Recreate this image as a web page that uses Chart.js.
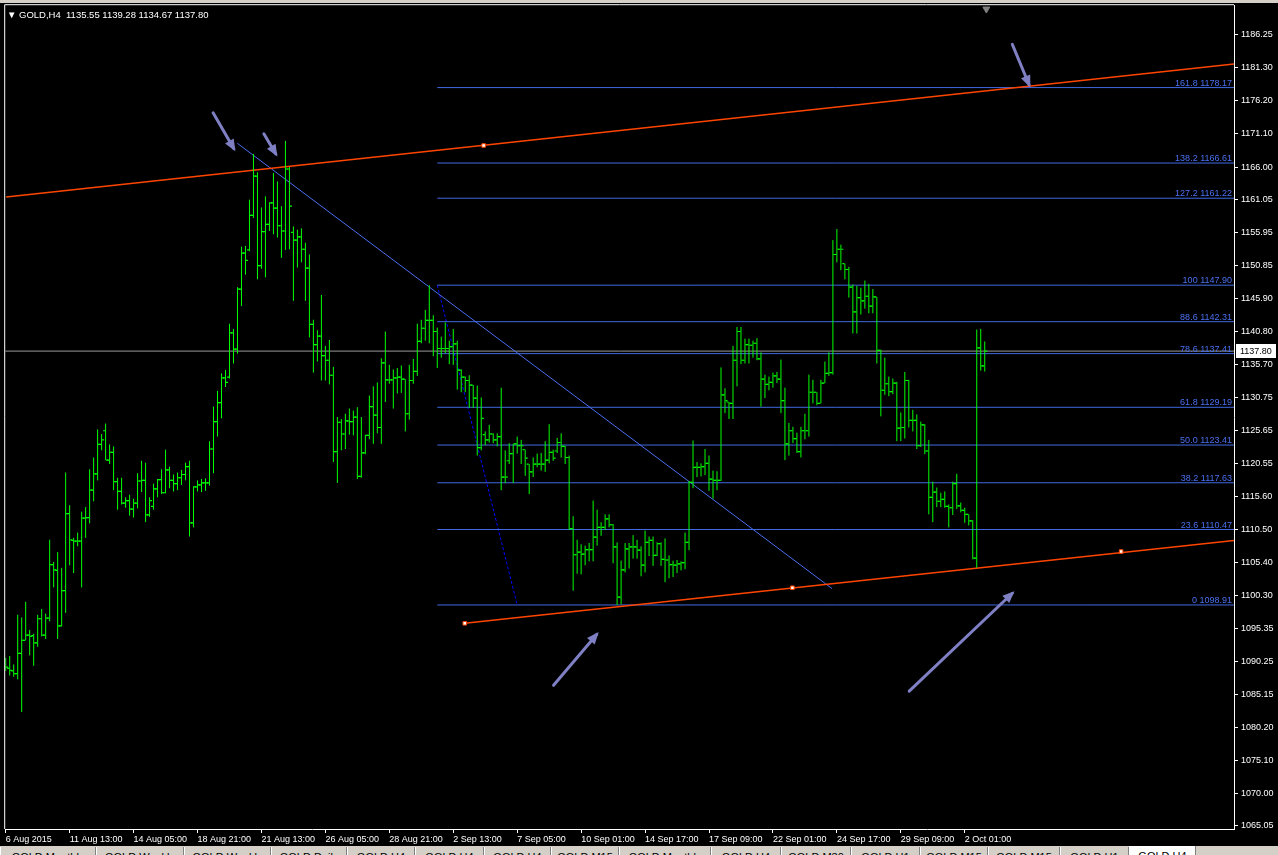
<!DOCTYPE html>
<html>
<head>
<meta charset="utf-8">
<title>GOLD,H4</title>
<script src="https://cdn.jsdelivr.net/npm/chart.js@4.4.1/dist/chart.umd.min.js"></script>
<style>
html, body { margin: 0; padding: 0; background: #000; }
body { width: 1278px; height: 855px; position: relative; overflow: hidden; font-family: "Liberation Sans", Arial, sans-serif; }
#wrap { position: absolute; left: 0; top: 0; width: 1278px; height: 846px; }
#caption { position: absolute; left: 7px; top: 9px; color: #fff; font-size: 9.5px; white-space: pre; }
#tabs { position: absolute; left: 0; top: 846px; width: 1278px; height: 9px; background: #d4d0c8; overflow: hidden; }
.tab { position: absolute; top: 1px; height: 14px; border-left: 1px solid #fff; border-right: 1px solid #808080; font-size: 11px; color: #000; text-align: center; line-height: 20px; }
.tab.active { background: #fff; top: 0; }
</style>
</head>
<body>
<div id="wrap"><canvas id="myChart" width="1278" height="846"></canvas></div>
<div id="caption">&#9660; GOLD,H4  1135.55 1139.28 1134.67 1137.80</div>
<div id="tabs"></div>
<script>
// H4 bars, index 0 = 6 Aug 2015
const barOpen = [
  1089.4,1089.2,1088.8,1088.4,1091.5,1093.5,1094.3,1094.2,1093.1,1096.8,
  1094.3,1096.9,1105.1,1104.2,1095.7,1101.1,1112.9,1108.8,1108.7,1108.7,
  1112.2,1112.3,1116.5,1119.0,1123.5,1125.6,1121.1,1122.3,1117.8,1116.3,
  1114.5,1114.9,1113.6,1114.5,1117.9,1118.0,1112.7,1114.0,1116.7,1118.1,
  1116.1,1119.6,1118.0,1117.5,1118.4,1118.9,1120.1,1111.5,1117.0,1117.3,
  1117.6,1117.6,1122.8,1127.0,1129.9,1133.7,1133.8,1140.6,1138.1,1147.3,
  1152.8,1153.3,1158.6,1164.6,1150.9,1156.1,1157.2,1160.5,1159.7,1157.0,
  1156.2,1165.7,1156.0,1154.8,1155.3,1153.4,1150.5,1141.9,1138.8,1140.1,
  1137.1,1136.4,1134.1,1122.4,1126.9,1125.1,1127.1,1127.0,1127.7,1118.6,
  1122.2,1124.9,1129.3,1128.0,1126.1,1136.0,1133.4,1133.4,1133.7,1133.8,
  1133.5,1128.2,1133.3,1134.7,1139.3,1141.3,1142.5,1142.5,1140.8,1138.2,
  1138.2,1138.2,1138.5,1138.9,1134.9,1133.8,1133.3,1132.6,1130.6,1123.0,
  1125.0,1124.2,1125.1,1124.2,1124.7,1118.5,1121.0,1122.1,1123.6,1123.3,
  1122.7,1120.5,1119.3,1120.5,1120.5,1120.5,1121.1,1122.3,1122.5,1123.8,
  1123.2,1121.5,1110.6,1106.6,1107.0,1106.7,1107.4,1107.4,1109.3,1110.8,
  1110.8,1112.1,1111.2,1107.8,1100.1,1104.3,1107.5,1107.8,1107.8,1107.3,
  1105.0,1108.5,1108.8,1106.5,1108.3,1105.9,1105.8,1105.1,1105.0,1105.2,
  1105.4,1108.5,1117.7,1120.0,1120.0,1120.1,1120.6,1118.2,1118.0,1118.0,
  1131.1,1130.0,1129.8,1136.4,1140.8,1136.4,1138.8,1138.7,1139.0,1136.6,
  1133.5,1132.7,1133.0,1134.0,1133.5,1130.2,1123.6,1125.6,1124.4,1122.4,
  1125.6,1125.6,1131.5,1131.5,1129.8,1132.9,1134.4,1134.5,1152.6,1153.4,
  1151.2,1150.3,1147.6,1143.8,1146.0,1145.5,1146.2,1144.7,1146.1,1137.9,
  1131.8,1132.8,1131.6,1132.9,1126.0,1126.1,1133.3,1127.2,1127.2,1123.3,
  1126.5,1122.5,1115.4,1116.2,1114.8,1115.1,1114.0,1113.8,1117.5,1114.1,
  1113.4,1112.8,1111.8,1106.1,1138.3,1135.55
];
const barHigh = [
  1090.8,1091.1,1089.8,1097.4,1097.0,1099.4,1095.1,1094.5,1097.4,1098.3,
  1097.6,1108.9,1105.5,1107.0,1104.6,1119.2,1114.2,1109.2,1110.0,1113.2,
  1113.9,1119.7,1121.5,1125.8,1125.1,1126.7,1123.5,1123.2,1118.4,1118.4,
  1115.4,1115.8,1115.2,1119.1,1121.0,1120.7,1115.4,1117.5,1118.2,1119.7,
  1122.7,1120.1,1118.9,1119.2,1119.6,1120.7,1121.0,1117.1,1118.0,1118.2,
  1118.3,1124.0,1129.3,1131.7,1134.4,1134.9,1142.0,1141.2,1147.6,1153.8,
  1153.9,1161.0,1168.0,1165.2,1159.8,1161.5,1160.6,1165.1,1163.8,1160.0,
  1170.0,1166.0,1156.9,1156.4,1156.6,1154.4,1152.6,1142.6,1141.0,1146.4,
  1138.6,1139.5,1135.4,1127.7,1127.4,1128.2,1129.0,1128.7,1129.2,1127.7,
  1125.0,1131.0,1132.4,1133.0,1136.7,1140.8,1135.7,1135.0,1135.2,1135.6,
  1133.5,1135.7,1136.6,1142.0,1142.6,1144.1,1147.9,1143.3,1141.4,1140.0,
  1142.2,1139.4,1141.2,1139.4,1135.0,1133.9,1134.1,1132.6,1132.5,1130.7,
  1125.5,1126.5,1125.2,1125.2,1132.2,1122.6,1123.7,1123.6,1124.7,1124.2,
  1122.7,1120.5,1121.5,1122.1,1122.2,1124.0,1126.6,1122.7,1124.5,1125.2,
  1123.3,1121.8,1112.5,1108.9,1108.2,1108.0,1108.4,1114.9,1113.5,1111.6,
  1112.8,1112.8,1111.3,1108.5,1105.7,1108.4,1108.4,1109.6,1108.9,1107.9,
  1110.3,1109.4,1109.4,1108.5,1108.5,1109.1,1106.5,1105.7,1105.8,1105.6,
  1110.0,1117.9,1124.1,1120.8,1120.6,1122.8,1121.8,1119.5,1119.4,1135.3,
  1132.1,1130.0,1138.6,1141.5,1141.5,1139.7,1139.7,1139.4,1139.8,1137.6,
  1134.2,1133.9,1134.5,1134.6,1136.5,1132.2,1126.8,1126.2,1125.3,1126.2,
  1128.2,1134.2,1133.4,1131.5,1133.4,1136.2,1137.6,1154.8,1156.5,1154.1,
  1151.2,1150.7,1148.0,1147.8,1147.5,1148.6,1148.1,1147.3,1146.1,1138.0,
  1136.8,1133.9,1133.6,1133.1,1128.4,1134.6,1133.4,1128.8,1128.1,1127.0,
  1126.6,1124.2,1117.8,1116.9,1116.1,1116.3,1114.3,1117.8,1119.0,1114.6,
  1113.8,1112.8,1111.9,1141.1,1141.2,1139.28
];
const barLow = [
  1088.8,1088.1,1087.9,1087.5,1082.5,1093.5,1091.2,1089.6,1092.5,1094.1,
  1093.7,1096.4,1101.6,1093.7,1095.6,1097.7,1105.0,1103.8,1107.9,1101.6,
  1109.2,1111.4,1114.8,1118.0,1122.6,1121.1,1120.5,1116.5,1113.5,1114.3,
  1113.8,1112.6,1112.3,1113.7,1116.2,1111.6,1112.4,1113.5,1115.4,1115.9,
  1116.0,1116.8,1116.3,1116.5,1117.3,1118.0,1109.4,1110.8,1116.3,1116.2,
  1116.4,1117.2,1119.1,1124.7,1127.5,1132.3,1133.6,1135.9,1137.4,1144.7,
  1149.5,1153.1,1158.2,1148.8,1150.4,1149.1,1156.2,1155.7,1155.2,1152.1,
  1153.3,1153.4,1145.5,1150.6,1151.4,1145.5,1139.9,1134.5,1136.2,1133.3,
  1133.3,1132.7,1120.8,1117.6,1122.6,1122.8,1125.0,1124.9,1118.2,1118.4,
  1122.0,1124.3,1123.6,1125.2,1123.6,1130.0,1132.8,1129.0,1131.3,1131.4,
  1125.5,1127.3,1132.8,1134.0,1139.0,1139.4,1139.0,1137.0,1135.2,1136.8,
  1137.5,1135.8,1135.7,1131.9,1131.5,1131.5,1129.1,1129.1,1121.8,1122.6,
  1123.4,1123.8,1123.7,1123.2,1116.5,1117.6,1120.5,1117.6,1122.1,1120.5,
  1118.7,1115.9,1118.5,1120.0,1119.5,1119.3,1120.6,1121.0,1122.2,1121.5,
  1120.5,1110.4,1101.1,1103.7,1103.6,1105.0,1105.6,1105.6,1108.0,1109.5,
  1110.4,1110.8,1105.3,1098.9,1099.0,1103.9,1104.5,1106.0,1106.0,1103.3,
  1103.9,1106.4,1104.9,1106.4,1104.9,1102.4,1103.0,1103.2,1103.8,1104.2,
  1104.4,1107.3,1116.8,1118.5,1118.6,1118.8,1116.4,1115.2,1116.5,1117.9,
  1128.3,1127.4,1127.4,1132.4,1135.8,1135.9,1135.9,1136.8,1136.4,1129.3,
  1130.6,1131.8,1132.2,1132.9,1128.3,1121.1,1121.8,1123.7,1122.2,1121.5,
  1124.3,1124.7,1129.8,1129.5,1129.8,1132.9,1134.0,1134.2,1151.4,1150.2,
  1148.8,1146.0,1140.5,1140.5,1143.4,1144.3,1143.6,1143.6,1135.9,1127.8,
  1131.1,1130.9,1131.2,1124.0,1124.0,1124.4,1126.1,1125.5,1122.8,1123.1,
  1122.0,1112.8,1111.6,1113.9,1113.9,1113.8,1110.8,1112.7,1113.6,1113.1,
  1111.5,1111.1,1105.9,1104.6,1134.8,1134.67
];
const barClose = [
  1089.4,1088.9,1088.4,1091.5,1093.5,1094.3,1094.1,1093.1,1096.8,1094.3,
  1096.9,1105.1,1104.3,1095.7,1101.1,1112.9,1108.9,1108.7,1108.7,1112.2,
  1112.3,1116.5,1119.0,1123.5,1124.2,1121.1,1122.3,1117.8,1116.3,1114.5,
  1114.9,1113.6,1114.5,1117.9,1118.0,1112.7,1114.9,1116.7,1118.1,1116.1,
  1119.6,1118.0,1117.5,1118.4,1118.9,1120.1,1111.5,1117.0,1117.3,1117.6,
  1117.6,1122.8,1127.0,1129.9,1133.7,1133.0,1140.6,1138.1,1147.3,1152.8,
  1151.7,1158.6,1164.6,1150.9,1156.1,1157.2,1160.5,1159.7,1157.0,1156.2,
  1165.7,1160.0,1154.8,1155.3,1153.4,1150.5,1141.9,1138.8,1140.1,1137.1,
  1136.4,1134.1,1122.4,1126.9,1125.1,1127.1,1127.0,1127.7,1118.6,1122.2,
  1124.9,1129.3,1128.0,1126.1,1136.0,1133.4,1133.4,1133.7,1133.8,1133.5,
  1128.2,1133.3,1134.7,1139.3,1141.3,1142.5,1142.5,1140.8,1138.2,1138.2,
  1138.2,1138.5,1138.9,1134.9,1133.8,1133.3,1132.6,1130.6,1123.0,1127.5,
  1124.2,1125.1,1124.2,1124.7,1118.5,1118.5,1122.1,1123.6,1123.3,1123.3,
  1121.4,1119.3,1120.5,1120.5,1120.5,1121.1,1122.3,1121.4,1123.8,1123.2,
  1121.5,1110.6,1106.6,1107.0,1106.7,1107.4,1107.4,1109.3,1110.8,1110.8,
  1112.1,1111.2,1107.8,1100.1,1104.3,1107.5,1107.8,1107.8,1107.3,1105.0,
  1108.5,1108.8,1106.5,1108.3,1105.9,1105.8,1105.1,1105.0,1105.2,1105.4,
  1108.5,1117.7,1120.0,1120.0,1120.1,1120.6,1118.2,1118.0,1118.0,1131.1,
  1130.2,1129.8,1136.4,1140.8,1136.4,1138.8,1138.7,1139.0,1136.6,1133.5,
  1132.7,1133.0,1134.0,1133.5,1130.2,1123.6,1125.6,1124.4,1122.4,1125.6,
  1125.6,1131.5,1131.5,1129.8,1132.9,1134.4,1134.5,1152.6,1153.4,1153.4,
  1150.3,1147.6,1143.8,1146.0,1145.5,1146.2,1144.7,1146.1,1137.9,1131.8,
  1132.8,1131.6,1132.9,1126.0,1126.1,1133.3,1127.2,1127.2,1123.3,1126.5,
  1122.5,1115.4,1116.2,1114.8,1115.1,1114.0,1113.8,1117.5,1114.1,1113.4,
  1112.8,1111.8,1106.1,1138.3,1135.55,1137.80
];

// time axis labels (every 16 bars)
const timeTickIdx = [0, 16, 32, 48, 64, 80, 96, 112, 128, 144, 160, 176, 192, 208, 224, 240];
const timeTickText = ['6 Aug 2015', '11 Aug 13:00', '14 Aug 05:00', '18 Aug 21:00', '21 Aug 13:00', '26 Aug 05:00',
  '28 Aug 21:00', '2 Sep 13:00', '7 Sep 05:00', '10 Sep 01:00', '14 Sep 17:00', '17 Sep 09:00',
  '22 Sep 01:00', '24 Sep 17:00', '29 Sep 09:00', '2 Oct 01:00'];

// price axis labels
const priceTicks = [1186.25, 1181.30, 1176.20, 1171.10, 1166.00, 1161.05, 1155.95, 1150.85, 1145.90, 1140.80,
  1135.70, 1130.75, 1125.65, 1120.55, 1115.60, 1110.50, 1105.40, 1100.30, 1095.35, 1090.25,
  1085.15, 1080.20, 1075.10, 1070.00, 1065.05];

// fibonacci retracement, drawn from bar 108 (high) to bar 128 (low)
const fibRatios = ['161.8', '138.2', '127.2', '100', '88.6', '78.6', '61.8', '50.0', '38.2', '23.6', '0'];
const fibPrices = [1178.17, 1166.61, 1161.22, 1147.90, 1142.31, 1137.41, 1129.19, 1123.41, 1117.63, 1110.47, 1098.91];
const fibStart = 108;
const fibTrend = [{x: 108, y: 1147.90}, {x: 128, y: 1098.91}];

// trend lines (x = bar index)
const upperChannel = [{x: 0.125, y: 1161.42}, {x: 307.375, y: 1181.77}];
const lowerChannel = [{x: 114.875, y: 1096.10}, {x: 307.375, y: 1108.80}];
const channelAnchors = [{x: 119.6, y: 1169.3}, {x: 114.875, y: 1096.10}, {x: 196.875, y: 1101.55}, {x: 279.125, y: 1107.10}];
const downTrend = [{x: 57.95, y: 1169.64}, {x: 206.8, y: 1101.41}];
const bidPrice = 1137.80;

// hand-drawn arrows: tail -> head
const arrows = [
  [{x: 51.9, y: 1174.3}, {x: 57.1, y: 1168.8}],
  [{x: 64.6, y: 1171.1}, {x: 67.6, y: 1168.0}],
  [{x: 251.9, y: 1184.8}, {x: 256.1, y: 1178.6}],
  [{x: 137.1, y: 1086.6}, {x: 147.9, y: 1094.4}],
  [{x: 226.1, y: 1085.7}, {x: 251.9, y: 1100.7}]
];

const xMin = -0.125, xMax = 307.375;
const yMin = 1064.59, yMax = 1190.79;

const GREEN = '#00ff00';
const FIB_BLUE = '#4169e1';
const ARROW = '#7f7fc4';
const FONT = {family: '"Liberation Sans", Arial, sans-serif', size: 9};

// high-low sticks as one broken line
const hlPoints = [];
barHigh.forEach((h, i) => {
  hlPoints.push({x: i, y: barLow[i]}, {x: i, y: h}, {x: i, y: null});
});
const openPoints = barOpen.map((v, i) => ({x: i - 0.375, y: v}));
const closePoints = barClose.map((v, i) => ({x: i + 0.375, y: v}));

const fibPoints = [];
fibPrices.forEach(p => {
  fibPoints.push({x: fibStart, y: p}, {x: xMax, y: p}, {x: xMax, y: null});
});

const datasets = [
  {label: 'hl', data: hlPoints, borderColor: GREEN, borderWidth: 1, pointRadius: 0, spanGaps: false, order: 1},
  {label: 'open', data: openPoints, showLine: false, pointStyle: 'line', pointRadius: 1, borderColor: GREEN, borderWidth: 1.2, order: 1},
  {label: 'close', data: closePoints, showLine: false, pointStyle: 'line', pointRadius: 1, borderColor: GREEN, borderWidth: 1.2, order: 1},
  {label: 'bid', data: [{x: xMin, y: bidPrice}, {x: xMax, y: bidPrice}], borderColor: '#999999', borderWidth: 1, pointRadius: 0, order: 6},
  {label: 'fib', data: fibPoints, borderColor: FIB_BLUE, borderWidth: 1, pointRadius: 0, spanGaps: false, order: 5},
  {label: 'fibTrend', data: fibTrend, borderColor: '#0000ff', borderWidth: 1, borderDash: [3, 2], pointRadius: 0, order: 5},
  {label: 'downTrend', data: downTrend, borderColor: '#4a6ef0', borderWidth: 1, pointRadius: 0, order: 4},
  {label: 'upper', data: upperChannel, borderColor: '#ff4500', borderWidth: 1.5, pointRadius: 0, order: 3},
  {label: 'lower', data: lowerChannel, borderColor: '#ff4500', borderWidth: 1.5, pointRadius: 0, order: 3},
  {label: 'anchors', data: channelAnchors, showLine: false, pointStyle: 'rect', pointRadius: 2.5,
    pointBackgroundColor: '#ffffff', pointBorderColor: '#ff4500', pointBorderWidth: 1, order: 2},
  {label: 'shift', data: [{x: 245.4, y: 1190.2}], showLine: false, pointStyle: 'triangle', rotation: 180,
    pointRadius: 4, pointBackgroundColor: '#808080', pointBorderColor: '#808080', clip: false, order: 2}
];
arrows.forEach((a, k) => {
  datasets.push({label: 'arrow' + k, data: a, arrow: true, borderColor: ARROW, borderWidth: 3,
    borderCapStyle: 'round', pointRadius: 0, order: 0});
});

const backdrop = {
  id: 'backdrop',
  beforeDraw(chart) {
    const ctx = chart.ctx;
    ctx.save();
    ctx.fillStyle = '#000';
    ctx.fillRect(0, 0, chart.width, chart.height);
    ctx.fillStyle = '#d4d0c8';
    ctx.fillRect(0, 0, chart.width, 3);
    ctx.restore();
  }
};

const overlay = {
  id: 'overlay',
  afterDatasetsDraw(chart) {
    const ctx = chart.ctx;
    const ys = chart.scales.y;
    const area = chart.chartArea;
    ctx.save();

    // arrow heads
    chart.data.datasets.forEach((ds, k) => {
      if (!ds.arrow) return;
      const pts = chart.getDatasetMeta(k).data;
      const a = pts[0], b = pts[pts.length - 1];
      const ang = Math.atan2(b.y - a.y, b.x - a.x);
      const tipX = b.x + Math.cos(ang) * 3, tipY = b.y + Math.sin(ang) * 3;
      const len = 12, half = 5;
      const bx = tipX - Math.cos(ang) * len, by = tipY - Math.sin(ang) * len;
      ctx.fillStyle = ds.borderColor;
      ctx.beginPath();
      ctx.moveTo(tipX, tipY);
      ctx.lineTo(bx - Math.sin(ang) * half, by + Math.cos(ang) * half);
      ctx.lineTo(bx + Math.sin(ang) * half, by - Math.cos(ang) * half);
      ctx.closePath();
      ctx.fill();
    });

    // fibonacci level captions
    ctx.font = '9px "Liberation Sans", Arial, sans-serif';
    ctx.fillStyle = '#4a70f0';
    ctx.textAlign = 'right';
    ctx.textBaseline = 'alphabetic';
    fibPrices.forEach((p, k) => {
      const y = ys.getPixelForValue(p);
      ctx.fillText(fibRatios[k] + ' ' + p.toFixed(2), area.right - 2, y - 2);
    });

    // frame on left and top
    ctx.strokeStyle = '#ffffff';
    ctx.lineWidth = 1;
    ctx.beginPath();
    ctx.moveTo(area.left - 0.5, area.bottom);
    ctx.lineTo(area.left - 0.5, area.top - 0.5);
    ctx.lineTo(area.right, area.top - 0.5);
    ctx.stroke();

    // current price box
    const by = Math.round(ys.getPixelForValue(bidPrice));
    ctx.fillStyle = '#ffffff';
    ctx.fillRect(area.right + 2, by - 7, 40, 14);
    ctx.fillStyle = '#000000';
    ctx.textAlign = 'left';
    ctx.textBaseline = 'middle';
    ctx.fillText(bidPrice.toFixed(2), area.right + 6, by + 0.5);
    ctx.restore();
  }
};

const ctx = document.getElementById('myChart').getContext('2d');
const myChart = new Chart(ctx, {
  type: 'line',
  data: {datasets: datasets},
  options: {
    responsive: false,
    animation: false,
    events: [],
    layout: {padding: {left: 4, top: 4, right: 0, bottom: 0}},
    plugins: {legend: {display: false}, tooltip: {enabled: false}, title: {display: false}},
    scales: {
      x: {
        type: 'linear',
        min: xMin,
        max: xMax,
        position: 'bottom',
        afterFit(scale) {
          scale.height = 17;
          scale.paddingLeft = 0;
          scale.paddingRight = 0;
        },
        afterBuildTicks(scale) { scale.ticks = timeTickIdx.map(v => ({value: v})); },
        ticks: {
          color: '#ffffff',
          font: FONT,
          align: 'start',
          maxRotation: 0,
          autoSkip: false,
          padding: 1,
          callback: (v) => timeTickText[timeTickIdx.indexOf(v)]
        },
        grid: {drawOnChartArea: false, drawTicks: true, tickLength: 4, color: '#ffffff'},
        border: {display: true, color: '#ffffff', width: 1}
      },
      y: {
        type: 'linear',
        position: 'right',
        min: yMin,
        max: yMax,
        afterFit(scale) {
          scale.width = 44;
          scale.paddingTop = 0;
          scale.paddingBottom = 0;
        },
        afterBuildTicks(scale) { scale.ticks = priceTicks.map(v => ({value: v})); },
        ticks: {
          color: '#ffffff',
          font: FONT,
          autoSkip: false,
          padding: 3,
          callback: (v) => v.toFixed(2)
        },
        grid: {drawOnChartArea: false, drawTicks: true, tickLength: 4, color: '#ffffff'},
        border: {display: true, color: '#ffffff', width: 1}
      }
    }
  },
  plugins: [backdrop, overlay]
});

// terminal tabs strip under the chart
const tabNames = ['GOLD,Monthly', 'GOLD,Weekly', 'GOLD,Weekly', 'GOLD,Daily', 'GOLD,H4', 'GOLD,H4', 'GOLD,H4',
  'GOLD,M15', 'GOLD,Monthly', 'GOLD,H4', 'GOLD,M30', 'GOLD,H1', 'GOLD,M15', 'GOLD,M15', 'GOLD,H1', 'GOLD,H4'];
const tabEdges = [0, 96, 184, 271, 347, 415, 484, 551, 619, 711, 781, 851, 920, 988, 1060, 1129, 1196];
const tabs = document.getElementById('tabs');
tabNames.forEach((name, k) => {
  const el = document.createElement('div');
  el.className = 'tab' + (k === tabNames.length - 1 ? ' active' : '');
  el.style.left = tabEdges[k] + 'px';
  el.style.width = (tabEdges[k + 1] - tabEdges[k] - 2) + 'px';
  el.textContent = name;
  tabs.appendChild(el);
});
</script>
</body>
</html>
